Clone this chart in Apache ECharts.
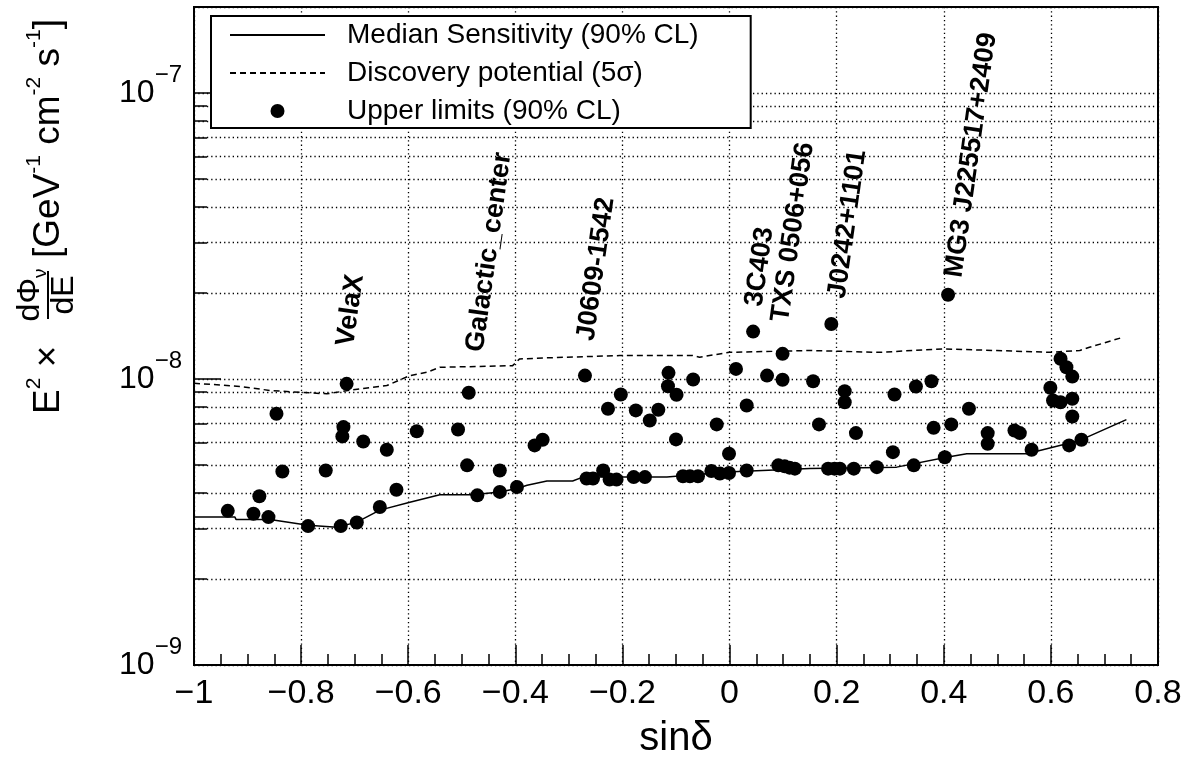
<!DOCTYPE html>
<html>
<head>
<meta charset="utf-8">
<title>Sensitivity vs sin(dec)</title>
<script src="https://cdn.jsdelivr.net/npm/echarts@6/dist/echarts.min.js"></script>
<style>
  html, body { margin: 0; padding: 0; background: #fff; }
  #main { width: 1188px; height: 763px; }
</style>
</head>
<body>
<div id="main"></div>
<script type="text/javascript">
var FONT = '"Liberation Sans", Arial, Helvetica, sans-serif';

// median sensitivity (solid line)
var medianX = [-1, -0.9235, -0.9216, -0.858, -0.787, -0.733, -0.696, -0.653, -0.597, -0.541, -0.479, -0.429, -0.397,
    -0.378, -0.341, -0.293, -0.274, -0.117, -0.005, 0.150, 0.312, 0.405, 0.443, 0.555, 0.654, 0.741];
var medianY = [3.29e-9, 3.29e-9, 3.23e-9, 3.23e-9, 3.08e-9, 3.03e-9, 3.16e-9, 3.48e-9, 3.71e-9, 3.94e-9, 3.94e-9, 4.03e-9, 4.14e-9,
    4.25e-9, 4.40e-9, 4.40e-9, 4.54e-9, 4.54e-9, 4.73e-9, 4.87e-9, 4.92e-9, 5.33e-9, 5.48e-9, 5.48e-9, 6.10e-9, 7.21e-9];

// discovery potential 5 sigma (dashed line)
var discX = [-1, -0.914, -0.858, -0.802, -0.752, -0.703, -0.640, -0.597, -0.565, -0.541, -0.405, -0.392, -0.341,
    -0.205, -0.069, -0.056, 0.0, 0.150, 0.280, 0.398, 0.499, 0.598, 0.654, 0.672, 0.734];
var discY = [9.67e-9, 9.42e-9, 9.12e-9, 8.99e-9, 8.88e-9, 9.17e-9, 9.49e-9, 1.028e-8, 1.056e-8, 1.099e-8, 1.114e-8, 1.176e-8, 1.186e-8,
    1.208e-8, 1.208e-8, 1.192e-8, 1.24e-8, 1.258e-8, 1.24e-8, 1.275e-8, 1.258e-8, 1.24e-8, 1.258e-8, 1.291e-8, 1.399e-8];

// upper limits per source (points)
var ulX = [-0.937, -0.889, -0.878, -0.861, -0.846, -0.835, -0.787, -0.754, -0.726, -0.721,
    -0.723, -0.715, -0.696, -0.684, -0.653, -0.640, -0.622, -0.584, -0.507, -0.490,
    -0.487, -0.471, -0.429, -0.429, -0.397, -0.364, -0.349, -0.270, -0.267, -0.255,
    -0.236, -0.227, -0.224, -0.211, -0.203, -0.179, -0.158, -0.175, -0.149, -0.133,
    -0.114, -0.115, -0.099, -0.100, -0.068, -0.087, -0.074, -0.059, -0.034, -0.024,
    -0.018, -0.001, -0.001, 0.012, 0.032, 0.032, 0.044, 0.070, 0.099, 0.099,
    0.091, 0.112, 0.122, 0.156, 0.167, 0.184, 0.196, 0.206, 0.190, 0.215,
    0.215, 0.232, 0.236, 0.275, 0.305, 0.308, 0.344, 0.348, 0.377, 0.381,
    0.402, 0.408, 0.414, 0.447, 0.482, 0.482, 0.532, 0.542, 0.564, 0.599,
    0.604, 0.618, 0.618, 0.629, 0.640, 0.640, 0.640, 0.634, 0.657, 0.103];
var ulY = [3.46e-9, 3.38e-9, 3.89e-9, 3.29e-9, 7.56e-9, 4.75e-9, 3.06e-9, 4.79e-9, 3.06e-9, 6.79e-9,
    6.30e-9, 9.62e-9, 3.15e-9, 6.05e-9, 3.57e-9, 5.66e-9, 4.10e-9, 6.57e-9, 6.66e-9, 4.99e-9,
    8.95e-9, 3.92e-9, 4.79e-9, 4.03e-9, 4.19e-9, 5.86e-9, 6.13e-9, 1.028e-8, 4.49e-9, 4.49e-9,
    4.79e-9, 7.87e-9, 4.45e-9, 4.45e-9, 8.83e-9, 4.54e-9, 4.54e-9, 7.77e-9, 7.16e-9, 7.81e-9,
    1.051e-8, 9.44e-9, 8.81e-9, 6.15e-9, 9.96e-9, 4.57e-9, 4.57e-9, 4.57e-9, 4.77e-9, 6.94e-9,
    4.67e-9, 4.69e-9, 5.48e-9, 1.085e-8, 8.08e-9, 4.79e-9, 1.465e-8, 1.028e-8, 1.225e-8, 9.94e-9,
    4.99e-9, 4.90e-9, 4.86e-9, 9.82e-9, 6.94e-9, 4.86e-9, 4.86e-9, 4.86e-9, 1.558e-8, 9.07e-9,
    8.30e-9, 4.86e-9, 6.47e-9, 4.92e-9, 5.55e-9, 8.83e-9, 4.99e-9, 9.42e-9, 9.82e-9, 6.75e-9,
    5.33e-9, 1.972e-8, 6.94e-9, 7.87e-9, 6.47e-9, 5.94e-9, 6.61e-9, 6.47e-9, 5.66e-9, 9.32e-9,
    8.41e-9, 8.30e-9, 1.177e-8, 1.10e-8, 1.020e-8, 8.53e-9, 7.40e-9, 5.86e-9, 6.13e-9, 4.95e-9];

// source name labels
var srcNames = ['VelaX', 'Galactic_center', 'J0609-1542', '3C403', 'TXS 0506+056', 'J0242+1101', 'MG3 J225517+2409'];
var srcX = [-0.716, -0.474, -0.267, 0.047, 0.096, 0.202, 0.420];
var srcY = [1.30e-8, 1.24e-8, 1.36e-8, 1.79e-8, 1.58e-8, 1.91e-8, 2.26e-8];

var legendNames = ['Median Sensitivity (90% CL)', 'Discovery potential (5\u03c3)', 'Upper limits (90% CL)'];

function pairs(xs, ys) {
    return xs.map(function (x, i) { return [x, ys[i]]; });
}

// minor decades 2..9 for the log grid
var minorVals = [];
[-9, -8].forEach(function (e) {
    for (var m = 2; m <= 9; m++) minorVals.push(m * Math.pow(10, e));
});
var dotted = { type: [1.3, 3], color: '#000', width: 1.3 };
var tickStyle = { type: 'solid', color: '#000', width: 1.5 };
var markData = [];
minorVals.forEach(function (v) {
    markData.push([{ coord: [-1, v], lineStyle: dotted }, { coord: [0.8, v], lineStyle: dotted }]);
    markData.push([{ coord: [-1, v], lineStyle: tickStyle }, { coord: [-0.9757, v], lineStyle: tickStyle }]);
});

var myChart = echarts.init(document.getElementById('main'));

myChart.setOption({
    animation: false,
    backgroundColor: '#fff',
    grid: {
        left: 194, right: 30, top: 7, bottom: 98,
        show: true, borderColor: '#000', borderWidth: 2,
        outerBoundsMode: 'none'
    },
    legend: {
        data: [
            { name: legendNames[0], itemStyle: { opacity: 0 } },
            { name: legendNames[1], itemStyle: { opacity: 0 } },
            { name: legendNames[2] }
        ],
        z: 20,
        orient: 'vertical',
        left: 211, top: 16,
        itemWidth: 95, itemHeight: 14, itemGap: 8,
        padding: [4, 52, 2, 18],
        backgroundColor: '#fff', borderColor: '#000', borderWidth: 2,
        selectedMode: false,
        textStyle: { fontSize: 28, fontFamily: FONT, color: '#000', lineHeight: 30, padding: [0, 0, 0, 17] }
    },
    xAxis: {
        type: 'value', min: -1, max: 0.8, interval: 0.2,
        name: 'sin\u03b4', nameLocation: 'middle', nameGap: 54, nameMoveOverlap: false,
        nameTextStyle: { fontSize: 40, fontFamily: FONT, color: '#000' },
        axisLine: { show: true, onZero: false, lineStyle: { color: '#000', width: 2 } },
        axisTick: { show: true, inside: true, length: 20, lineStyle: { color: '#000', width: 1.5 } },
        minorTick: { show: true, splitNumber: 4, length: 11, lineStyle: { color: '#000', width: 1.5 } },
        splitLine: { show: true, lineStyle: dotted },
        axisLabel: {
            margin: 12, fontSize: 34, fontFamily: FONT, color: '#000',
            formatter: function (v) {
                var r = Math.round(v * 10) / 10;
                if (r === 0) return '0';
                return (r < 0 ? '\u2212' : '') + Math.abs(r);
            }
        }
    },
    yAxis: {
        type: 'log', logBase: 10, min: 1e-9, max: 2e-7, splitNumber: 3,
        axisLine: { show: true, onZero: false, lineStyle: { color: '#000', width: 2 } },
        axisTick: { show: true, inside: true, length: 27, lineStyle: { color: '#000', width: 1.5 } },
        splitLine: { show: true, lineStyle: dotted },
        axisLabel: {
            margin: 12,
            formatter: function (v) {
                var e = Math.round(Math.log10(v));
                if (Math.abs(v - Math.pow(10, e)) / v > 1e-6) return '';
                return '{b|10}{s|\u2212' + (-e) + '}';
            },
            rich: {
                b: { fontSize: 32, fontFamily: FONT, color: '#000', lineHeight: 60 },
                s: { fontSize: 24, fontFamily: FONT, color: '#000', lineHeight: 22, verticalAlign: 'top' }
            }
        }
    },
    graphic: [{
        type: 'group', x: 49, y: 414, rotation: Math.PI / 2,
        children: [
            {
                type: 'text', x: 0, y: 0,
                style: {
                    text: '{m|E}{s|2}{m| \u00d7 }', align: 'left', verticalAlign: 'middle',
                    rich: {
                        m: { fontSize: 37, fontFamily: FONT, fill: '#000', lineHeight: 50 },
                        s: { fontSize: 21, fontFamily: FONT, fill: '#000', lineHeight: 21, verticalAlign: 'top' }
                    }
                }
            },
            {
                type: 'text', x: 119, y: -19,
                style: {
                    text: '{m|d\u03a6}{u|\u03bd}', align: 'center', verticalAlign: 'middle',
                    rich: {
                        m: { fontSize: 32, fontFamily: FONT, fill: '#000', lineHeight: 40 },
                        u: { fontSize: 19, fontFamily: FONT, fill: '#000', lineHeight: 19, verticalAlign: 'bottom' }
                    }
                }
            },
            {
                type: 'line', shape: { x1: 95, y1: -1, x2: 143, y2: -1 },
                style: { stroke: '#000', lineWidth: 2 }
            },
            {
                type: 'text', x: 119, y: 15,
                style: { text: 'dE', align: 'center', verticalAlign: 'middle', fontSize: 32, fontFamily: FONT, fill: '#000' }
            },
            {
                type: 'text', x: 156, y: 0,
                style: {
                    text: '{m|[GeV}{s|-1}{m| cm}{s|-2}{m| s}{s|-1}{m|]}', align: 'left', verticalAlign: 'middle',
                    rich: {
                        m: { fontSize: 37, fontFamily: FONT, fill: '#000', lineHeight: 50 },
                        s: { fontSize: 21, fontFamily: FONT, fill: '#000', lineHeight: 21, verticalAlign: 'top' }
                    }
                }
            }
        ]
    }],
    series: [
        {
            name: legendNames[0], type: 'line', data: pairs(medianX, medianY),
            symbol: 'none', lineStyle: { color: '#000', width: 1.5 }, itemStyle: { color: 'rgba(0,0,0,0)' },
            z: 3,
            markLine: {
                silent: true, symbol: ['none', 'none'], label: { show: false },
                lineStyle: tickStyle, data: markData
            }
        },
        {
            name: legendNames[1], type: 'line', data: pairs(discX, discY),
            symbol: 'none', lineStyle: { color: '#000', width: 1.5, type: [6, 4] }, itemStyle: { color: 'rgba(0,0,0,0)' },
            z: 3
        },
        {
            name: legendNames[2], type: 'scatter', data: pairs(ulX, ulY),
            symbol: 'circle', symbolSize: 14, itemStyle: { color: '#000', opacity: 1 }, z: 4
        },
        {
            name: 'sources', type: 'scatter', silent: true,
            data: srcNames.map(function (n, i) { return { name: n, value: [srcX[i], srcY[i]] }; }),
            symbolSize: 1, itemStyle: { color: 'rgba(0,0,0,0)', opacity: 1 },
            label: {
                show: true, formatter: '{b}', position: [0, 0], rotate: 82,
                align: 'left', verticalAlign: 'middle', opacity: 1,
                fontSize: 27, fontWeight: 'bold', fontFamily: FONT, color: '#000'
            },
            z: 5
        }
    ]
});
</script>
</body>
</html>
